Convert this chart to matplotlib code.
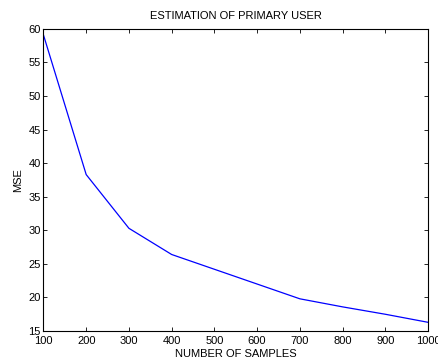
import matplotlib
matplotlib.use("Agg")
import matplotlib.pyplot as plt

samples = [100, 200, 300, 400, 500, 600, 700, 800, 900, 1000]
mse = [59.1, 38.3, 30.3, 26.4, 24.2, 22.0, 19.8, 18.6, 17.5, 16.3]

plt.rcParams['font.family'] = ['Liberation Sans', 'DejaVu Sans']
plt.rcParams['font.size'] = 8

fig = plt.figure(figsize=(4.39, 3.61), dpi=100)
ax = fig.add_axes([0.099, 0.083, 0.876, 0.837])

ax.plot(samples, mse, color='blue', linewidth=0.9)

ax.set_xlim(100, 1000)
ax.set_ylim(15, 60)
ax.set_xticks(range(100, 1001, 100))
ax.set_yticks(range(15, 61, 5))
ax.tick_params(direction='in', top=True, right=True, length=3, width=0.6, pad=2)
ax.tick_params(axis='x', pad=3.5)
for s in ax.spines.values():
    s.set_linewidth(0.8)

ax.set_title("ESTIMATION OF PRIMARY USER", fontsize=8, pad=7)
ax.set_xlabel("NUMBER OF SAMPLES", labelpad=2.5)
ax.set_ylabel("MSE", labelpad=4)

fig.savefig("out.png", dpi=100)
